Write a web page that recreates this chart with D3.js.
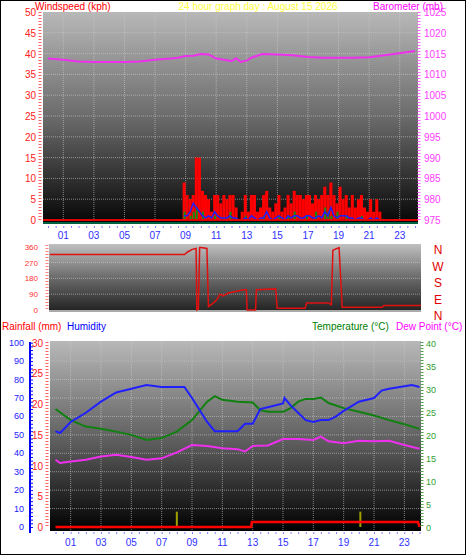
<!DOCTYPE html>
<html><head><meta charset="utf-8">
<script src="https://cdn.jsdelivr.net/npm/d3@7"></script>
<style>body{margin:0;background:#fff}svg{display:block;font-family:"Liberation Sans",Arial,sans-serif}</style>
</head><body><div id="chart"></div>
<script>
// ---- data ----
const titleText = "24 hour graph day : August 15 2026";
const hourLabels = ["01","03","05","07","09","11","13","15","17","19","21","23"];
const baroHours = [0,1,2,3,4,5,6,7,8,8.5,9,9.5,10,10.5,11,11.5,12,12.3,12.6,13,13.3,14,15,16,17,18,19,20,21,22,23,24];
const baroValues = [1013.8,1013.5,1013.1,1013,1013,1013,1013.1,1013.5,1013.8,1014,1014.4,1014.5,1014.9,1014.8,1013.8,1013.5,1013.2,1013.9,1013,1013.3,1014,1014.9,1014.8,1014.6,1014.2,1014,1014,1014,1014.1,1014.6,1015.1,1015.6];
const gustStart = 8.8, gustStep = 0.2;
const gustValues = [9,6,5,6,15,15,7,6,5,2,6,6,4,6,5,6,6,3,0,2,6,2,6,6,2,3,6,7,3,2,4,6,2,3,6,4,7,6,6,5,6,6,4,6,5,6,8,6,9,6,4,8,5,6,3,6,3,5,6,3,2,5,2,5,2];
const avgValues = [1,1,2,4,3,2,1,0.5,1,0.5,2,1,0.5,0.5,0.5,1,0.5,0.5,0,0,0.5,0,1,0.5,0,0.5,0.5,2,0.5,0,0.5,1,0.5,0,1,0.5,1,1,0.5,0.5,1,1,0.5,0.5,1,0.5,2,1,3,1,0.5,1,1,1,0.5,0.5,0,0.5,0.5,0,0,0.5,0,0.5,0];
const greenValues = [2,0,1,2,3,0,2,0,0,0,1,0,0,0,0,2,0,0,0,0,1,0,0,0,0,0,1,0,0,0,0,1,0,0,1,0,2,0,0,0,1,0,0,2,0,0,3,2,1,0,2,0,0,1,0,0,0,0,1,0,0,0,0,0,0];
const dirHours = [0,8.7,8.9,9.2,9.45,9.5,9.6,9.68,9.75,10.15,10.25,10.5,10.8,11,11.2,11.5,12,12.5,12.7,12.75,13.3,13.35,14.6,14.7,16.5,16.6,18,18.2,18.3,18.7,18.9,19.2,21.5,21.6,24];
const dirValues = [315,315,330,345,350,0,5,355,355,350,20,35,60,90,80,95,105,115,115,0,0,115,120,10,10,40,40,30,340,355,15,15,15,25,25];
const humHours = [0,0.3,1,2,3,4,5,6,7,8.5,9,10,10.5,11,12,12.5,13,13.5,14,15,15.1,15.5,16,16.5,17,17.5,18,18.5,19,20,21,21.5,22,23.5,24];
const humValues = [52,51,57,62,68,73,75,77,76,76,70,57,52,52,52,56,56,64,65,67,70,66,62,58,57,58,58,60,63,68,70,74,75,77,76];
const tempHours = [0,1,2,3,4,5,6,7,8,9,10,10.5,11,12,13,13.5,14,15,15.5,16,16.5,17,17.5,18,19,20,21,22,23,24];
const tempValues = [25.6,23.2,21.8,21.3,20.7,20,18.9,19.3,20.7,23.2,27.2,28.4,27.6,27.2,27,25.4,25,25,25.8,27.2,27.8,27.8,28.1,26.9,25.8,25,24.2,23.2,22.3,21.3];
const dewHours = [0,0.3,1,2,3,4,5,6,7,8,9,10,11,12,12.5,13,14,15,16,17,17.5,18,19,20,21,22,23,24];
const dewValues = [14.6,13.9,14.2,14.6,15.3,15.7,15.2,14.6,14.9,16.2,17.8,17.6,17.1,16.9,16.4,17.6,17.7,19.1,19.1,18.9,19.6,18.6,18.2,18.7,18.6,18.7,17.8,17];
const rainHours = [0,12.9,12.95,23.9,24];
const rainValues = [0,0,0.8,0.8,0];
const rateHours = [8, 20.1];
const rateValues = [2.5, 2.5];

const W = 466, H = 555;
const svg = d3.select("#chart").append("svg").attr("width", W).attr("height", H);
svg.append("rect").attr("x",0.5).attr("y",0.5).attr("width",W-1).attr("height",H-1).attr("fill","#fff").attr("stroke","#000");

const defs = svg.append("defs");
function grad(id, stops) {
    const g = defs.append("linearGradient").attr("id", id).attr("x1",0).attr("x2",0).attr("y1",0).attr("y2",1);
    stops.forEach(s => g.append("stop").attr("offset", s[0]).attr("stop-color", s[1]));
}
grad("g1", [[0,"#b8b8b8"],[0.5,"#6a6a6a"],[1,"#050505"]]);
grad("g2", [[0,"#c0c0c0"],[0.5,"#6a6a6a"],[1,"#202020"]]);
grad("g3", [[0,"#b8b8b8"],[0.55,"#5a5a5a"],[1,"#000"]]);

function txt(x, y, t, c, anchor, size) {
    return svg.append("text").attr("x", x).attr("y", y).text(t).attr("fill", c)
        .attr("text-anchor", anchor || "start").attr("font-size", size || 11);
}
function grid(g, x, y, xs, ys, x0, x1, y0, y1) {
    g.selectAll(".vg").data(xs).enter().append("line")
        .attr("x1", d => x(d)).attr("x2", d => x(d)).attr("y1", y0).attr("y2", y1)
        .attr("stroke", "#ccc").attr("stroke-opacity", 0.6).attr("stroke-dasharray", "1,1");
    g.selectAll(".hg").data(ys).enter().append("line")
        .attr("x1", x0).attr("x2", x1).attr("y1", d => y(d)).attr("y2", d => y(d))
        .attr("stroke", "#ccc").attr("stroke-opacity", 0.6).attr("stroke-dasharray", "1,1");
}
function vaxis(x, y0, y1, color) {
    svg.append("line").attr("x1", x).attr("x2", x).attr("y1", y0).attr("y2", y1)
        .attr("stroke", color).attr("stroke-width", 3).attr("stroke-dasharray", "1,2");
}
const oddHours = d3.range(1, 24, 2);
const lineGen = (x, y) => d3.line().x(d => x(d[0])).y(d => y(d[1]));

// ---- panel 1: wind + barometer ----
const x1 = d3.scaleLinear().domain([0,24]).range([48,415]);
const yWind = d3.scaleLinear().domain([0,50]).range([220,12]);
const yBaro = d3.scaleLinear().domain([975,1025]).range([220,12]);
const p1 = svg.append("g");
p1.append("rect").attr("x",43).attr("y",12).attr("width",375).attr("height",212).attr("fill","url(#g1)");
grid(p1, x1, yWind, oddHours, d3.range(5,50,5), 43, 418, 12, 224);
vaxis(40, 12, 222, "#ff6060");
vaxis(419, 12, 222, "#ff60ff");
d3.range(0,51,5).forEach(v => txt(36, yWind(v)+4, v, "#ff2020", "end", 10));
d3.range(975,1026,5).forEach(v => txt(424, yBaro(v)+4, v, "#ff40ff", "start", 10));
const gustData = gustValues.map((v,i) => [gustStart + i*gustStep, v]);
p1.selectAll(".gust").data(gustData).enter().append("rect")
    .attr("x", d => x1(d[0])).attr("width", x1(gustStep)-x1(0))
    .attr("y", d => yWind(d[1])).attr("height", d => yWind(0)-yWind(d[1])).attr("fill", "#ff0000");
p1.selectAll(".grn").data(greenValues.map((v,i) => [gustStart + i*gustStep, v])).enter().append("rect")
    .attr("x", d => x1(d[0])+1).attr("width", 2)
    .attr("y", d => yWind(d[1])).attr("height", d => yWind(0)-yWind(d[1])).attr("fill", "#109010");
p1.append("path").datum(avgValues.map((v,i) => [gustStart + i*gustStep + 0.1, v]))
    .attr("d", lineGen(x1, yWind)).attr("fill","none").attr("stroke","#2020ff").attr("stroke-width",1.5);
p1.append("line").attr("x1",43).attr("x2",418).attr("y1",yWind(0)).attr("y2",yWind(0)).attr("stroke","#e00000").attr("stroke-width",2);
p1.append("line").attr("x1",43).attr("x2",418).attr("y1",223).attr("y2",223).attr("stroke","#006040").attr("stroke-width",2);
p1.append("path").datum(d3.zip(baroHours, baroValues))
    .attr("d", lineGen(x1, yBaro)).attr("fill","none").attr("stroke","#ee30ee").attr("stroke-width",2);
svg.append("g").attr("transform","translate(0,226)")
    .call(d3.axisBottom(x1).ticks(48).tickSize(2).tickFormat(""))
    .call(g => g.select(".domain").remove())
    .call(g => g.selectAll("line").attr("stroke","#8080ff"));
hourLabels.forEach(h => txt(x1(+h), 239, h, "#3030ff", "middle", 10));
txt(35, 10, "Windspeed (kph)", "#ff0000", "start", 10);
txt(258, 10, titleText, "#ffff40", "middle", 10);
txt(443, 10, "Barometer (mb)", "#ff00ff", "end", 10);

// ---- panel 2: wind direction ----
const x2 = d3.scaleLinear().domain([0,24]).range([50,421]);
const yDir = d3.scaleLinear().domain([0,360]).range([310,246.7]);
const p2 = svg.append("g");
p2.append("rect").attr("x",49).attr("y",244).attr("width",372).attr("height",68).attr("fill","url(#g2)");
grid(p2, x2, yDir, [], [90,180,270], 49, 421, 244, 312);
p2.append("line").attr("x1",49).attr("x2",421).attr("y1",311).attr("y2",311).attr("stroke","#aaa").attr("stroke-width",2);
vaxis(47, 245, 311, "#ff8080");
[0,90,180,270,360].forEach(v => txt(38, yDir(v)+3, v, "#ff3030", "end", 8));
p2.append("path").datum(d3.zip(dirHours, dirValues))
    .attr("d", lineGen(x2, yDir)).attr("fill","none").attr("stroke","#e01010").attr("stroke-width",1.5);
["N","W","S","E","N"].forEach((l,i) => txt(438, 254 + i*16.5, l, "#e00000", "middle", 12));

// ---- panel 3: rain, humidity, temperature ----
const x3 = d3.scaleLinear().domain([0,24]).range([55.5,419.5]);
const yHum = d3.scaleLinear().domain([0,100]).range([527,342.7]);
const yRain = d3.scaleLinear().domain([0,30]).range([527,342.7]);
const yTemp = d3.scaleLinear().domain([0,40]).range([527,342.7]);
txt(2, 330, "Rainfall (mm)", "#ff0000", "start", 10);
txt(67, 330, "Humidity", "#0000ff", "start", 10);
txt(312, 330, "Temperature (°C)", "#008000", "start", 10);
txt(396, 330, "Dew Point (°C)", "#ff00ff", "start", 10);
const p3 = svg.append("g");
p3.append("rect").attr("x",50).attr("y",341).attr("width",371).attr("height",190).attr("fill","url(#g3)");
grid(p3, x3, yHum, oddHours, d3.range(10,100,10), 50, 421, 341, 531);
svg.append("line").attr("x1",30).attr("x2",30).attr("y1",342).attr("y2",533).attr("stroke","#0000ff").attr("stroke-width",2);
svg.append("g").attr("transform","translate(30,0)")
    .call(d3.axisRight(yHum).ticks(50).tickSize(3).tickFormat(""))
    .call(g => g.select(".domain").remove()).call(g => g.selectAll("line").attr("stroke","#0000ff"));
vaxis(47, 342, 528, "#ff6060");
vaxis(422, 342, 528, "#50a050");
d3.range(0,101,10).forEach(v => txt(24, yHum(v)+3, v, "#2020ff", "end", 9));
d3.range(0,31,5).forEach(v => txt(43, yRain(v)+4, v, "#ff2020", "end", 10));
d3.range(0,41,5).forEach(v => txt(426, yTemp(v)+4, v, "#30a030", "start", 9));
p3.selectAll(".rate").data(d3.zip(rateHours, rateValues)).enter().append("rect")
    .attr("x", d => x3(d[0])-1).attr("width", 2)
    .attr("y", d => yRain(d[1])).attr("height", d => yRain(0)-yRain(d[1])).attr("fill","#a0a000");
p3.append("path").datum(d3.zip(tempHours, tempValues))
    .attr("d", lineGen(x3, yTemp)).attr("fill","none").attr("stroke","#108010").attr("stroke-width",2);
p3.append("path").datum(d3.zip(dewHours, dewValues))
    .attr("d", lineGen(x3, yTemp)).attr("fill","none").attr("stroke","#ee30ee").attr("stroke-width",2);
p3.append("path").datum(d3.zip(humHours, humValues))
    .attr("d", lineGen(x3, yHum)).attr("fill","none").attr("stroke","#2020ff").attr("stroke-width",2);
p3.append("path").datum(d3.zip(rainHours, rainValues))
    .attr("d", lineGen(x3, yRain)).attr("fill","none").attr("stroke","#ff0000").attr("stroke-width",2.5);
svg.append("g").attr("transform","translate(0,532)")
    .call(d3.axisBottom(x3).ticks(48).tickSize(2).tickFormat(""))
    .call(g => g.select(".domain").remove())
    .call(g => g.selectAll("line").attr("stroke","#8080ff"));
hourLabels.forEach(h => txt(x3(+h), 546, h, "#3030ff", "middle", 10));
</script></body></html>
